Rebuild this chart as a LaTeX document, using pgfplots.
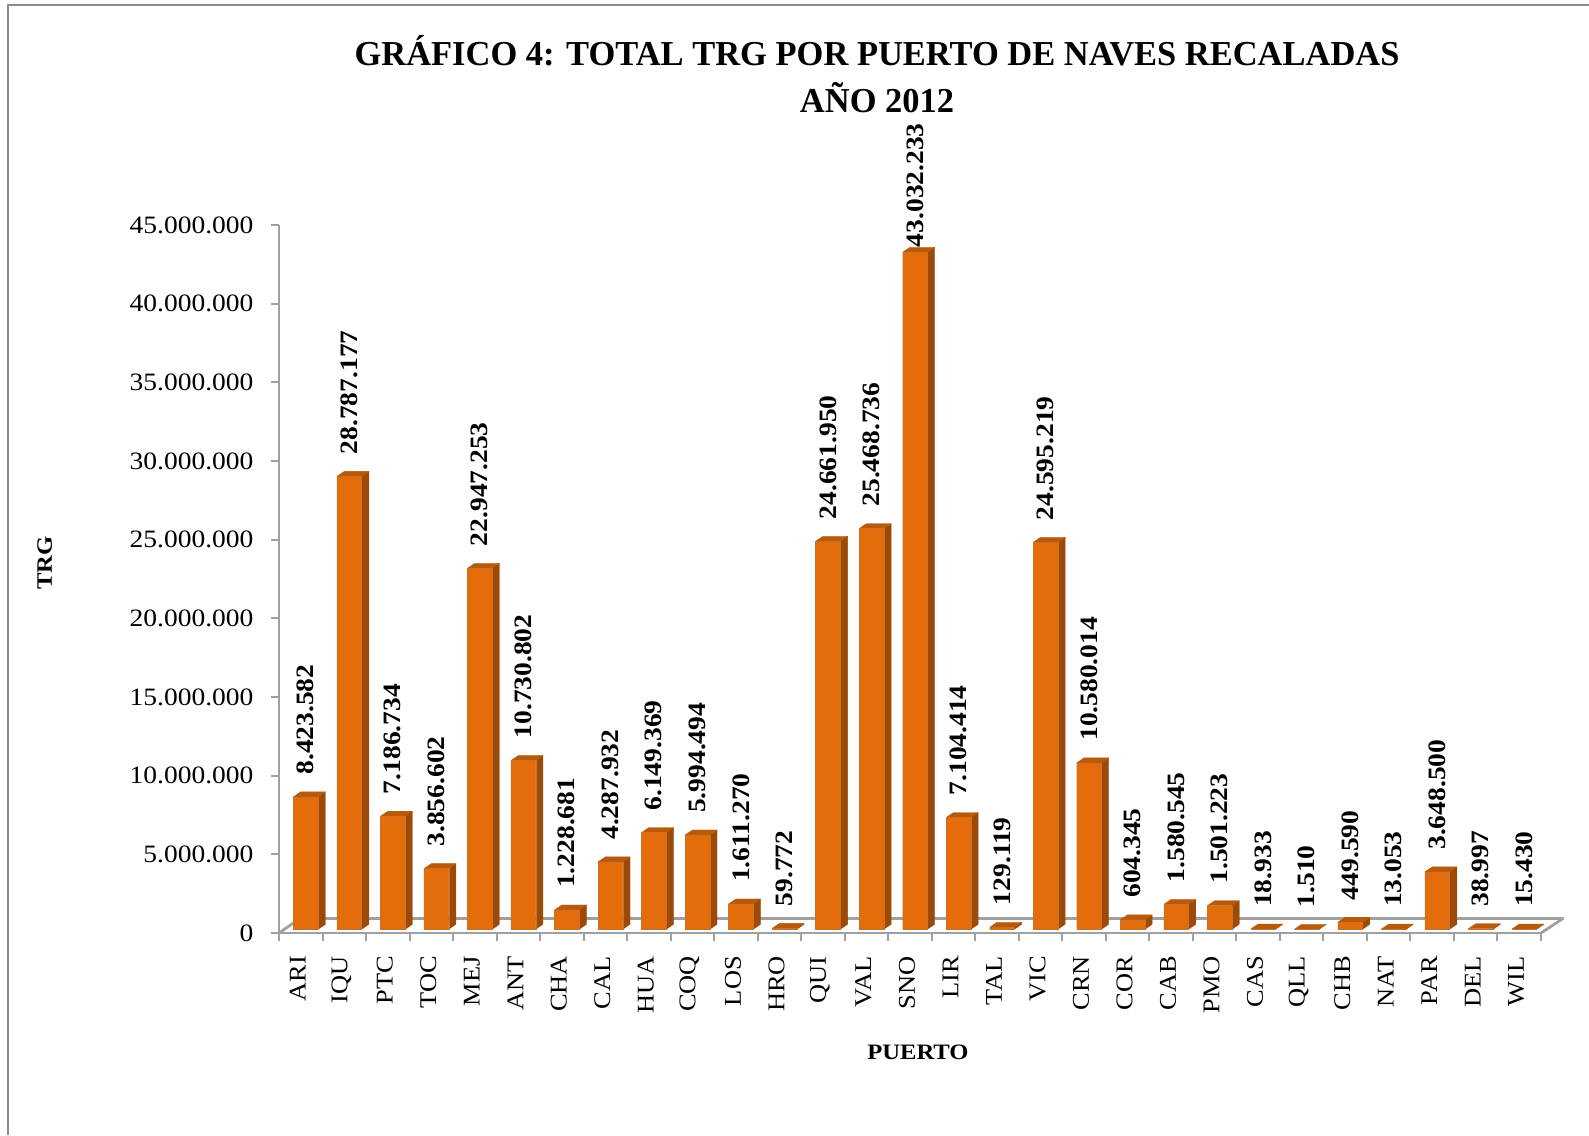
\documentclass[border=0pt]{standalone}
\usepackage{pgfplots}
\usepackage{pgfplotstable}
\usepackage{fontspec}
\pgfplotsset{compat=1.18}
\setmainfont{Liberation Serif}[FakeStretch=1.10]
\newfontfamily\titlefont{Liberation Serif}[FakeStretch=0.985]
\newfontfamily\axisfont{Liberation Serif}[FakeStretch=1.12]
\definecolor{barfront}{HTML}{E46C0A}
\definecolor{barside}{HTML}{9C4A08}
\definecolor{bartop}{HTML}{B85A0A}
\definecolor{axisgray}{HTML}{A0A0A0}
\definecolor{framegray}{HTML}{8C8C8C}
\pgfplotstableread{
x y label dy
0 8423582 8.423.582 0
1 28787177 28.787.177 0
2 7186734 7.186.734 0
3 3856602 3.856.602 0
4 22947253 22.947.253 0
5 10730802 10.730.802 0
6 1228681 1.228.681 0
7 4287932 4.287.932 0
8 6149369 6.149.369 0
9 5994494 5.994.494 0
10 1611270 1.611.270 0
11 59772 59.772 0
12 24661950 24.661.950 0
13 25468736 25.468.736 0
14 43032233 43.032.233 -17
15 7104414 7.104.414 0
16 129119 129.119 0
17 24595219 24.595.219 0
18 10580014 10.580.014 0
19 604345 604.345 0
20 1580545 1.580.545 0
21 1501223 1.501.223 0
22 18933 18.933 0
23 1510 1.510 0
24 449590 449.590 0
25 13053 13.053 0
26 3648500 3.648.500 0
27 38997 38.997 0
28 15430 15.430 0
}\datatable
\begin{document}
\begin{tikzpicture}[x=1pt,y=1pt]
\useasboundingbox (0,0) rectangle (1589,1135);
\draw[line width=2pt,color=framegray] (8,0) -- (8,1130) -- (1589,1130);
% floor
\draw[line width=2.8pt,axisgray,line join=round] (279,202) -- (300,216.5) -- (1563,216.5) -- (1541,202);
\begin{axis}[
  at={(279pt,202pt)},anchor=south west,
  scale only axis,width=1262pt,height=708pt,
  xmin=0,xmax=29,ymin=0,ymax=45000000,
  clip=false,
  axis lines=left,
  axis line style={-,line width=2.8pt,axisgray},
  tick style={line width=2pt,axisgray},
  tick align=outside,
  major tick length=8pt,
  xtick={0,...,29},
  x tick label as interval,
  xticklabels={ARI,IQU,PTC,TOC,MEJ,ANT,CHA,CAL,HUA,COQ,LOS,HRO,QUI,VAL,SNO,LIR,TAL,VIC,CRN,COR,CAB,PMO,CAS,QLL,CHB,NAT,PAR,DEL,WIL},
  xticklabel style={rotate=90,anchor=east,font=\fontsize{24}{24}\selectfont,xshift=-13pt,yshift=3pt,inner sep=2pt},
  ytick={0,5000000,...,45000000},
  scaled y ticks=false,
  /pgf/number format/fixed,
  /pgf/number format/precision=0,
  /pgf/number format/1000 sep={.},
  /pgf/number format/assume math mode=true,
  yticklabel style={font=\fontsize{25}{25}\selectfont,xshift=-14pt},
  title={GRÁFICO 4: TOTAL TRG POR PUERTO DE NAVES RECALADAS\\AÑO 2012},
  title style={at={(0.4739,1.204)},anchor=center,align=center,font=\fontsize{35}{47}\selectfont\titlefont\bfseries,inner sep=0pt},
  xlabel={PUERTO},
  xlabel style={at={(0.5063,-0.168)},anchor=center,font=\fontsize{22}{24}\selectfont\axisfont\bfseries,inner sep=0pt},
  ylabel={TRG},
  ylabel style={at={(-0.1857,0.5226)},anchor=center,font=\fontsize{22}{24}\selectfont\axisfont\bfseries,inner sep=0pt},
]
\pgfplotsinvokeforeach{0,...,28}{
  \pgfplotstablegetelem{#1}{y}\of\datatable
  \edef\temp{\noexpand\filldraw[barside,draw=barside,line width=0.3pt,line join=round]
    (axis cs:#1.5,\pgfplotsretval) ++(17.35pt,3.7pt) -- ++(7.3pt,5pt)
    -- ([xshift=24.65pt,yshift=8.7pt]axis cs:#1.5,0) -- ([xshift=17.35pt,yshift=3.7pt]axis cs:#1.5,0) -- cycle;
   \noexpand\filldraw[bartop,draw=bartop,line width=0.3pt,line join=round]
    (axis cs:#1.5,\pgfplotsretval) ++(-7.35pt,3.7pt) -- ++(7.3pt,5pt) -- ++(24.7pt,0) -- ++(-7.3pt,-5pt) -- cycle;}
  \temp
}
\addplot[ybar,bar width=24.7pt,bar shift=5pt,yshift=3.7pt,fill=barfront,draw=barfront!75!gray,line width=0.3pt,
  visualization depends on={\thisrow{dy}\as\dylab},
  point meta=explicit symbolic,
  nodes near coords,
  every node near coord/.append style={rotate=90,anchor=west,font=\fontsize{25}{25}\selectfont\bfseries,text=black,xshift=22pt+\dylab pt,yshift=-5pt,inner sep=0pt}
] table[x expr=\thisrow{x}+0.5,y=y,meta=label]{\datatable};
\end{axis}
\end{tikzpicture}
\end{document}
